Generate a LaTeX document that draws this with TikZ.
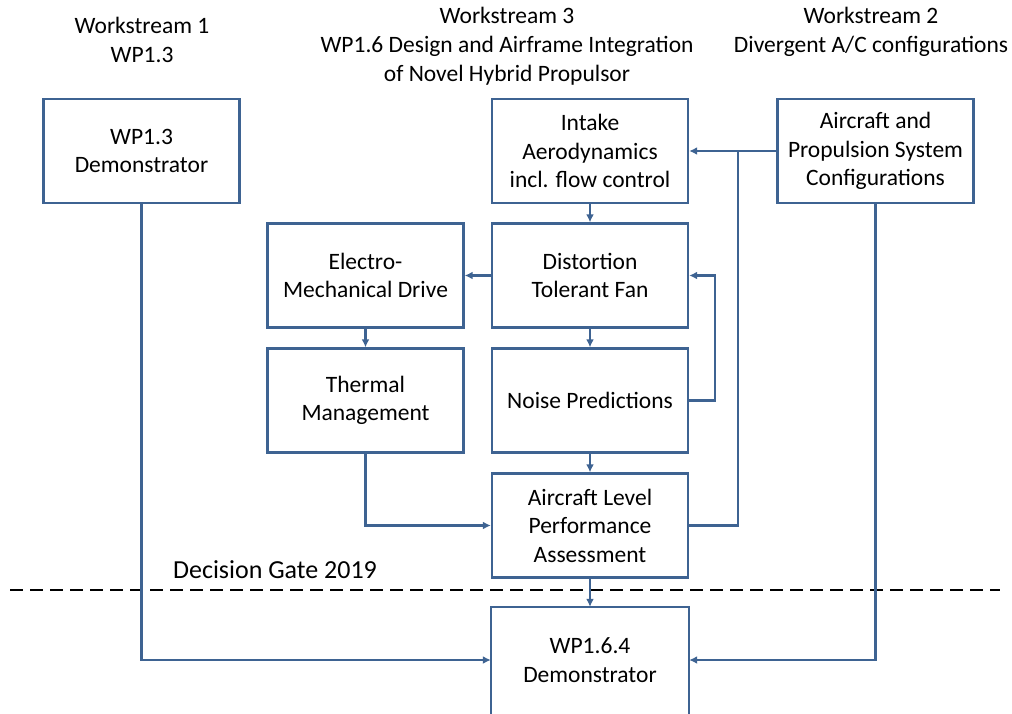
\documentclass[tikz,border=0pt]{standalone}
\usepackage{fontspec}
\setmainfont{Carlito}
\usetikzlibrary{arrows.meta}
\definecolor{wpblue}{RGB}{62,99,146}
\tikzset{
  wpbox/.style={draw=wpblue, line width=2.4pt, fill=white, minimum width=196pt,
    minimum height=104pt, inner sep=2pt, align=center,
    font=\fontsize{23.5}{28.5}\selectfont},
  hdr/.style={align=center, font=\fontsize{23.5}{29}\selectfont, inner sep=0pt},
  link/.style={draw=wpblue, line width=2.4pt, line join=miter},
  flow/.style={link, -{Latex[length=8pt,width=8pt]}},
}
\begin{document}
\begin{tikzpicture}[x=1pt,y=-1pt]
  \clip (0,0) rectangle (1012,713);
  \useasboundingbox (0,0) rectangle (1012,713);

  % workstream headings
  \node[hdr] (ws1) at (142,40) {Workstream 1\\WP1.3};
  \node[hdr] (ws3) at (507,46) {Workstream 3\\WP1.6 Design and Airframe Integration\\of Novel Hybrid Propulsor};
  \node[hdr] (ws2) at (871,32) {Workstream 2\\Divergent A/C configurations};

  % work package boxes
  \node[wpbox] (wpdemo) at (141.5,151) {WP1.3\\Demonstrator};
  \node[wpbox] (intake) at (590,151) {Intake\\Aerodynamics\\incl. flow control};
  \node[wpbox] (apsc) at (875.5,151) {Aircraft and\\Propulsion System\\Configurations};
  \node[wpbox] (emd) at (365.5,275.5) {Electro-\\Mechanical Drive};
  \node[wpbox] (dtf) at (590,275.5) {Distortion\\Tolerant Fan};
  \node[wpbox] (tm) at (365.5,400.5) {Thermal\\Management};
  \node[wpbox] (np) at (590,400.5) {Noise Predictions};
  \node[wpbox] (alpa) at (590,525.5) {Aircraft Level\\Performance\\Assessment};

  % decision gate
  \draw[black, line width=2.6pt, dash pattern=on 13pt off 7pt] (10,590) -- (1000,590);
  \node[hdr, font=\fontsize{26}{30}\selectfont] (gate) at (275,570) {Decision Gate 2019};

  % final demonstrator: its frame runs on below the lower edge
  \node[wpbox, draw=none, fill=none] (demo) at (590,660) {WP1.6.4\\Demonstrator};
  \draw[wpblue, line width=2.4pt] (demo.north west) rectangle ([yshift=-40pt]demo.south east);

  % connectors
  \coordinate (jn) at (738,151);
  \draw[flow] (apsc.west) -- (intake.east);
  \draw[link] (alpa.east) -| (jn);
  \draw[flow] (intake.south) -- (dtf.north);
  \draw[flow] (dtf.west) -- (emd.east);
  \draw[flow] (dtf.south) -- (np.north);
  \draw[flow] (np.east) -- ++(26,0) |- (dtf.east);
  \draw[flow] (emd.south) -- (tm.north);
  \draw[flow] (np.south) -- (alpa.north);
  \draw[flow] (tm.south) |- (alpa.west);
  \draw[flow] (alpa.south) -- (demo.north);
  \draw[flow] (wpdemo.south) |- (demo.west);
  \draw[flow] (apsc.south) |- (demo.east);
\end{tikzpicture}
\end{document}
